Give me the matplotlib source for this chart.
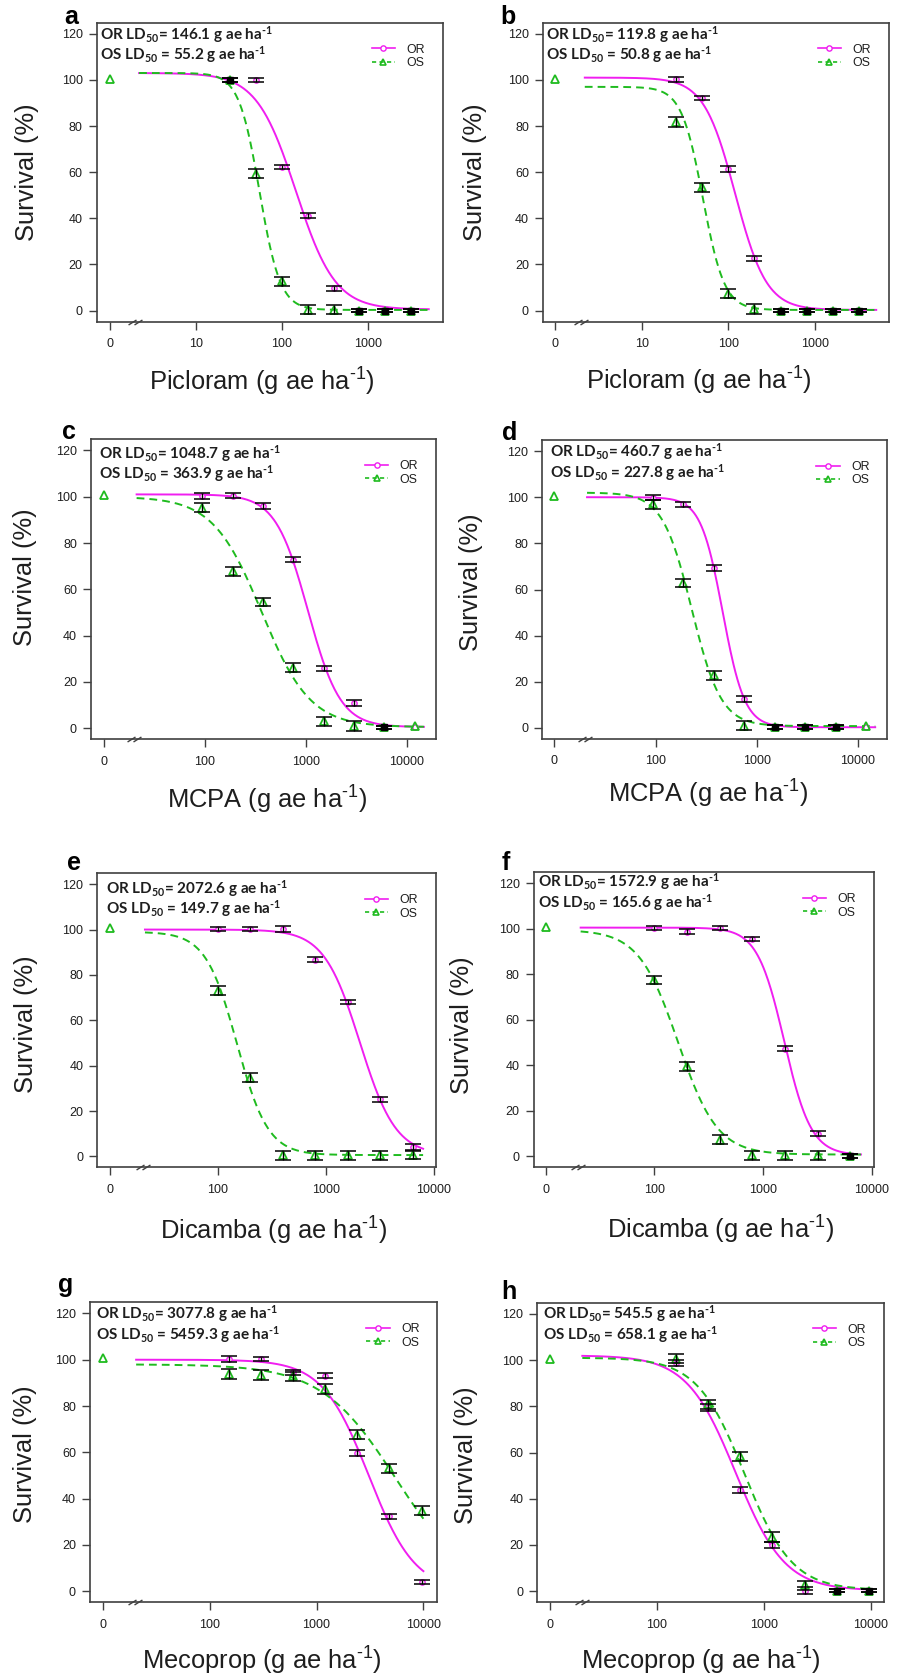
"""Dose-response survival curves (OR vs OS) for four auxinic herbicides."""

import matplotlib

matplotlib.use("Agg")
import matplotlib.pyplot as plt
import numpy as np
from matplotlib.lines import Line2D
from matplotlib.path import Path

plt.rcParams["font.family"] = ["Liberation Sans", "DejaVu Sans"]
plt.rcParams["mathtext.fontset"] = "custom"
plt.rcParams["mathtext.rm"] = "Liberation Sans"
plt.rcParams["mathtext.it"] = "Liberation Sans:italic"
plt.rcParams["mathtext.bf"] = "Lato:bold"

# ---- data -------------------------------------------------------------
herbicides = ["Picloram", "Picloram", "MCPA", "MCPA",
              "Dicamba", "Dicamba", "Mecoprop", "Mecoprop"]

picloram_doses = [25, 50, 100, 200, 400, 800, 1600, 3200]
mcpa_doses = [93.75, 187.5, 375, 750, 1500, 3000, 6000, 12000]
dicamba_doses = [100, 200, 400, 800, 1600, 3200, 6400]
mecoprop_doses = [150, 300, 600, 1200, 2400, 4800, 9600]

# survival (%) of untreated control (OS symbol drawn at dose 0)
control_os = [100.2, 100.2, 100.7, 100.5, 100.8, 100.6, 100.7, 100.5]

a_or = [100, 100, 62.3, 41.2, 9.7, 0, 0, 0]
a_or_se = [1.0, 1.0, 1.0, 1.2, 1.0, 0.8, 0.8, 0.8]
a_os = [100, 59.4, 12.7, 0.4, 0.4, 0, 0, 0]
a_os_se = [1.0, 2.0, 2.0, 2.0, 2.0, 0.8, 0.8, 0.8]
a_dark = [1, 0, 0, 0, 0, 1, 1, 1]

b_or = [100.2, 92.2, 61.4, 22.6, 0, 0, 0, 0]
b_or_se = [1.2, 1.0, 1.2, 1.2, 0.8, 0.8, 0.8, 0.8]
b_os = [81.8, 53.5, 7.4, 0.7, 0, 0, 0, 0]
b_os_se = [2.0, 2.0, 2.0, 2.0, 0.8, 0.8, 0.8, 0.8]
b_dark = [0, 0, 0, 0, 1, 1, 1, 1]

c_or = [100.4, 100.4, 95.9, 72.8, 25.8, 10.9, 0.3, 0.3]
c_or_se = [1.2, 1.0, 1.2, 1.2, 1.0, 1.2, 0.8, 0]
c_os = [95.2, 67.7, 54.6, 26.1, 2.9, 1.0, 0.3, 1.0]
c_os_se = [2.0, 2.0, 1.8, 2.0, 2.0, 2.0, 0.8, 0]
c_dark = [0, 0, 0, 0, 0, 0, 1, 0]

d_or = [99.8, 96.9, 69.4, 12.6, 0.3, 0.3, 0.3, 0.5]
d_or_se = [1.2, 1.0, 1.2, 1.2, 0.8, 0.8, 0.8, 0]
d_os = [96.9, 62.9, 22.8, 1.0, 0.3, 0.3, 0.3, 1.0]
d_os_se = [1.8, 1.8, 2.0, 2.0, 0.8, 0.8, 0.8, 0]
d_dark = [0, 0, 0, 0, 1, 1, 1, 0]

e_or = [100.3, 100.3, 100.3, 86.7, 68.0, 25.1, 4.0]
e_or_se = [1.0, 1.0, 1.2, 1.0, 1.0, 1.2, 1.3]
e_os = [73.0, 34.7, 0.6, 0.6, 0.6, 0.6, 0.6]
e_os_se = [2.0, 2.0, 2.0, 2.0, 2.0, 2.0, 1.8]
e_dark = [0, 0, 0, 0, 0, 0, 0]

f_or = [100.3, 98.7, 100.3, 95.4, 47.3, 10.0, 0.3]
f_or_se = [1.0, 1.0, 1.0, 1.0, 1.0, 1.2, 0.8]
f_os = [77.5, 39.5, 7.4, 0.4, 0.4, 0.4, 0.3]
f_os_se = [1.8, 1.8, 2.0, 2.0, 2.0, 2.0, 0.8]
f_dark = [0, 0, 0, 0, 0, 0, 1]

g_or = [100.3, 100.3, 94.5, 93.1, 59.7, 32.4, 3.9]
g_or_se = [1.2, 1.0, 1.0, 1.2, 1.2, 1.0, 1.0]
g_os = [93.8, 93.4, 92.8, 87.3, 67.6, 53.1, 34.8]
g_os_se = [2.0, 2.0, 2.0, 2.0, 2.0, 2.0, 1.8]
g_dark = [0, 0, 0, 0, 0, 0, 0]

h_or = [98.8, 79.6, 43.8, 20.0, 0.3, 0.3, 0.3]
h_or_se = [1.2, 1.5, 1.2, 1.5, 1.5, 0.8, 0.8]
h_os = [100.5, 80.8, 58.3, 23.4, 2.5, 0.3, 0.3]
h_os_se = [2.0, 1.8, 2.0, 2.0, 2.0, 0.8, 0.8]
h_dark = [0, 0, 0, 0, 0, 1, 1]

# LD50 estimates (g ae/ha) printed on each panel
ld50_or = ["146.1", "119.8", "1048.7", "460.7", "2072.6", "1572.9", "3077.8", "545.5"]
ld50_os = ["55.2", "50.8", "363.9", "227.8", "149.7", "165.6", "5459.3", "658.1"]

# fitted log-logistic parameters: slope b, lower c, upper d, LD50 e
or_b = [1.9, 2.4, 2.7, 4.0, 2.6, 3.5, 2.0, 1.9]
or_c = [0.5, 0.3, 0.5, 0.3, 0.5, 0.5, 0.0, 0.3]
or_d = [103, 101, 101, 100, 100, 100.5, 100, 102]
os_b = [3.6, 3.5, 1.8, 3.0, 3.0, 2.4, 1.25, 1.95]
os_c = [0.3, 0.3, 0.5, 0.8, 0.6, 0.8, 0.0, 0.5]
os_d = [103, 97, 100, 102, 99, 99.5, 98, 101]

doses = [picloram_doses, picloram_doses, mcpa_doses, mcpa_doses,
         dicamba_doses, dicamba_doses, mecoprop_doses, mecoprop_doses]
surv_or = [a_or, b_or, c_or, d_or, e_or, f_or, g_or, h_or]
se_or = [a_or_se, b_or_se, c_or_se, d_or_se, e_or_se, f_or_se, g_or_se, h_or_se]
surv_os = [a_os, b_os, c_os, d_os, e_os, f_os, g_os, h_os]
se_os = [a_os_se, b_os_se, c_os_se, d_os_se, e_os_se, f_os_se, g_os_se, h_os_se]
dark = [a_dark, b_dark, c_dark, d_dark, e_dark, f_dark, g_dark, h_dark]

# ---- layout (figure pixels) -------------------------------------------
W, H = 897, 1680
letters = "abcdefgh"
frames = [(96.7, 442.7, 22.7, 321.7), (543, 888.7, 22.7, 321.7),
          (91, 436, 439.3, 739.3), (542.3, 887.3, 440, 739),
          (97.3, 435.7, 873.3, 1167.3), (533.7, 873.7, 872.3, 1167.3),
          (90, 437.3, 1302.3, 1602.3), (537.3, 883.7, 1302.7, 1602.3)]
zero_pos = [1, 1, 10, 10, 10, 10, 10, 10]
xlims = [(-0.15, 3.87), (-0.14, 3.85), (0.87, 4.29), (0.88, 4.29),
         (0.88, 4.02), (0.89, 4.02), (0.88, 4.13), (0.88, 4.12)]
curve_span = [(2.2, 5100), (2.2, 5080), (21, 14800), (21, 14800),
              (21, 8000), (21, 8000), (20.5, 10000), (20, 9600)]
letter_xy = [(64, 24), (500, 23.5), (62, 438.5), (502, 440.5),
             (67, 870), (502, 869.5), (58, 1292), (501, 1299)]
xlabel_xy = [(262, 390.7), (699, 390), (267, 808.3), (708, 802.7),
             (273, 1239.3), (720, 1238.3), (262, 1669.3), (701, 1669.3)]
ylabel_xy = [(26.7, 171.7), (475, 171.7), (25, 577.5), (471.3, 582.5),
             (26.3, 1024), (462, 1025), (25, 1454), (466.3, 1455)]
note_dx = [3.3, 3.3, 8.3, 7.4, 8.7, 4.3, 6, 5.7]
note_dy = [16.6, 16.6, 19, 16.7, 20, 14.4, 16.7, 16.3]

OR_COLOR = "#f01ef0"
OS_COLOR = "#1fbb1f"
FRAME = "#404040"
TXT = "#1e1e1e"
HYPH = "\u2010"

BREAK = Path([(-7, -2.5), (1, 2.5), (-1, -2.5), (7, 2.5)],
             [Path.MOVETO, Path.LINETO, Path.MOVETO, Path.LINETO])


def ll4(x, b, c, d, e):
    return c + (d - c) / (1 + np.exp(b * (np.log(x) - np.log(e))))


def fx(x):
    return x / W


def fy(y):
    return 1 - y / H


fig = plt.figure(figsize=(W / 100, H / 100), dpi=100)

for i, letter in enumerate(letters):
    l, r, t, b = frames[i]
    ax = fig.add_axes([fx(l), fy(b), (r - l) / W, (b - t) / H])
    ax.set_xscale("log")
    ax.set_xlim(10 ** xlims[i][0], 10 ** xlims[i][1])
    ax.set_ylim(-4.8, 124.8)

    z = zero_pos[i]
    x = np.array(doses[i], dtype=float)

    # fitted curves
    xs = np.logspace(np.log10(curve_span[i][0]), np.log10(curve_span[i][1]), 300)
    ax.plot(xs, ll4(xs, or_b[i], or_c[i], or_d[i], float(ld50_or[i])),
            color=OR_COLOR, lw=1.4, zorder=2)
    ax.plot(xs, ll4(xs, os_b[i], os_c[i], os_d[i], float(ld50_os[i])),
            color=OS_COLOR, lw=1.4, dashes=(4, 2.6), zorder=2)

    # observed means
    ax.plot([z], [control_os[i]], ls="none", marker="^", ms=5.5, mfc="none",
            mec=OS_COLOR, mew=1.3, zorder=3)
    ax.plot(x, surv_or[i], ls="none", marker="o", ms=3.8, mfc="white",
            mec=OR_COLOR, mew=1.0, zorder=3)
    ax.plot(x, surv_os[i], ls="none", marker="^", ms=5.5, mfc="none",
            mec=OS_COLOR, mew=1.3, zorder=3)

    # standard errors
    for yv, sv in ((surv_or[i], se_or[i]), (surv_os[i], se_os[i])):
        yv = np.array(yv, dtype=float)
        sv = np.array(sv, dtype=float)
        keep = sv > 0
        ax.errorbar(x[keep], yv[keep], yerr=sv[keep], fmt="none", ecolor="black",
                    elinewidth=1.0, capsize=5.8, capthick=1.1, zorder=4)

    dk = np.array(dark[i], dtype=bool)
    ax.plot(x[dk], np.array(surv_or[i], dtype=float)[dk], ls="none", marker="s",
            ms=4.2, color="black", zorder=5)

    # axes styling
    for s in ax.spines.values():
        s.set_color(FRAME)
        s.set_linewidth(1.2)
    ax.set_yticks([0, 20, 40, 60, 80, 100, 120])
    xt = [z, z * 10, z * 100, z * 1000]
    ax.set_xticks(xt)
    ax.set_xticklabels(["0"] + [f"{v:g}" for v in xt[1:]])
    ax.minorticks_off()
    ax.tick_params(axis="both", direction="out", length=5.8, width=1.0,
                   color=FRAME, labelsize=9, labelcolor=TXT)
    ax.tick_params(axis="y", pad=4.3)
    ax.tick_params(axis="x", pad=6)

    # axis break on the x axis
    ax.plot([z * 10 ** 0.3], [0], transform=ax.get_xaxis_transform(),
            marker=BREAK, ms=10, mec=FRAME, mew=1.0, ls="none",
            clip_on=False, zorder=6)

    # legend
    handles = [
        Line2D([], [], color=OR_COLOR, lw=1.2, marker="o", ms=3.8,
               mfc="white", mec=OR_COLOR, mew=1.0),
        Line2D([], [], color=OS_COLOR, lw=1.2, dashes=(2.5, 2), marker="^",
               ms=5, mfc="none", mec=OS_COLOR, mew=1.2),
    ]
    ax.legend(handles, ["OR", "OS"], loc="upper left", frameon=False,
              bbox_to_anchor=(fx(r - 71), fy(t + 21)),
              bbox_transform=fig.transFigure, borderpad=0, borderaxespad=0,
              handlelength=1.9, handletextpad=0.9, labelspacing=0.12,
              numpoints=1, fontsize=8.9, labelcolor=TXT)

    # LD50 notes
    nx = l + note_dx[i]
    ny = t + note_dy[i]
    sup = "$^{\\mathbf{" + HYPH + "1}}$"
    fig.text(fx(nx), fy(ny),
             "OR LD$_{\\mathbf{50}}$= " + ld50_or[i] + " g ae ha" + sup,
             family="Lato", weight="bold", fontsize=11.0, color=TXT,
             ha="left", va="baseline")
    fig.text(fx(nx), fy(ny + 20.7),
             "OS LD$_{\\mathbf{50}}$ = " + ld50_os[i] + " g ae ha" + sup,
             family="Lato", weight="bold", fontsize=11.0, color=TXT,
             ha="left", va="baseline")

    # labels
    fig.text(fx(xlabel_xy[i][0]), fy(xlabel_xy[i][1]),
             herbicides[i] + " (g ae ha$^{\\mathrm{" + HYPH + "1}}$)",
             fontsize=18.4, color=TXT, ha="center", va="baseline")
    fig.text(fx(ylabel_xy[i][0]), fy(ylabel_xy[i][1]), "Survival (%)",
             fontsize=18.4, color=TXT, rotation=90, ha="center", va="center")
    fig.text(fx(letter_xy[i][0]), fy(letter_xy[i][1]), letter,
             fontsize=18, weight="bold", color="black", ha="left", va="baseline")

fig.savefig("out.png", dpi=100, facecolor="white")
plt.close(fig)
